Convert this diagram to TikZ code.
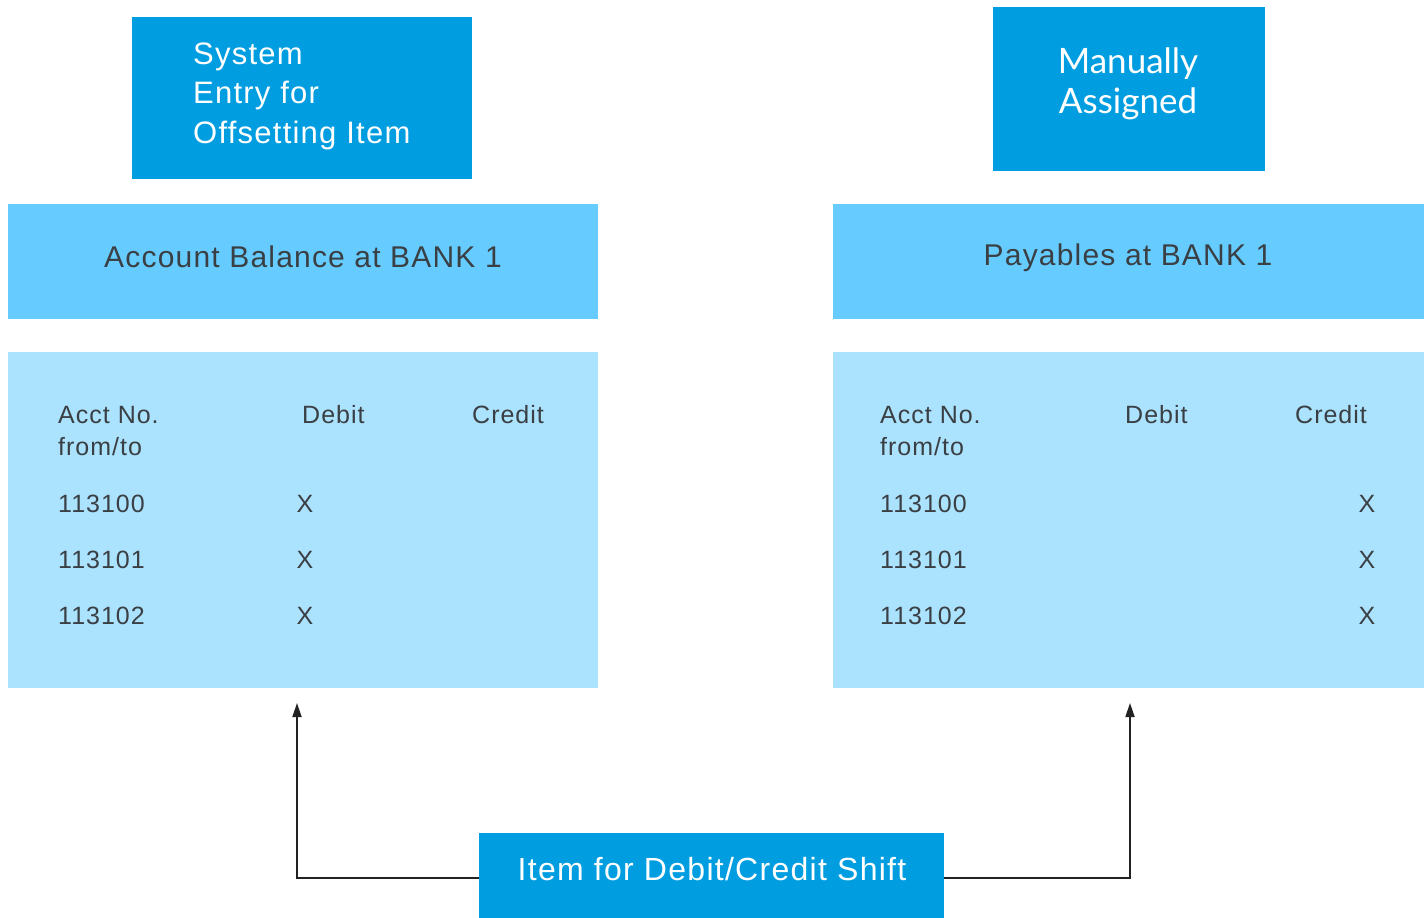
\documentclass[tikz,border=0pt]{standalone}
\usepackage{fontspec}
\setmainfont[LetterSpace=4]{Liberation Sans}
\newfontfamily\latofont{Lato}
\usetikzlibrary{arrows.meta}
\definecolor{sapdark}{HTML}{009DE0}
\definecolor{sapmid}{HTML}{66CCFF}
\definecolor{saplight}{HTML}{ABE2FD}
\definecolor{txtgray}{HTML}{3A3F44}
\definecolor{linegray}{HTML}{222222}

\tikzset{
  panel/.style={anchor=north west, inner sep=0pt, outer sep=0pt, draw=none},
  hdrtext/.style={text=txtgray, font=\fontsize{30}{36}\selectfont, inner sep=0pt},
  celltext/.style={text=txtgray, font=\fontsize{25}{32}\selectfont, inner sep=0pt, anchor=base west},
  whitetext/.style={text=white, inner sep=0pt},
  link/.style={draw=linegray, line width=1.8pt, -{Triangle[length=14pt,width=9pt]}}
}

\begin{document}
\begin{tikzpicture}[x=1pt,y=-1pt]
\useasboundingbox (0,0) rectangle (1424,918);

% top labels
\node[panel, fill=sapdark, minimum width=340pt, minimum height=162pt] (sys) at (132,17) {};
\node[whitetext, anchor=base west, align=left, font=\fontsize{31}{39.5}\selectfont] (systxt) at (193,143)
  {System\\Entry for\\Offsetting Item};
\node[panel, fill=sapdark, minimum width=272pt, minimum height=164pt] (man) at (993,7) {};
\node[whitetext, align=center, font=\latofont\fontsize{35}{40}\selectfont] (mantxt) at (1128,84)
  {Manually\\Assigned};

% account headers
\node[panel, fill=sapmid, minimum width=590pt, minimum height=115pt] (hdrL) at (8,204) {};
\node[hdrtext, anchor=base] (hdrLtxt) at (303,267) {Account Balance at BANK 1};
\node[panel, fill=sapmid, minimum width=591pt, minimum height=115pt] (hdrR) at (833,204) {};
\node[hdrtext, anchor=base] (hdrRtxt) at (1128,265) {Payables at BANK 1};

% account tables
\node[panel, fill=saplight, minimum width=590pt, minimum height=336pt] (tabL) at (8,352) {};
\node[panel, fill=saplight, minimum width=591pt, minimum height=336pt] (tabR) at (833,352) {};

% left table contents
\node[celltext] (lacct) at (58,423) {Acct No.};
\node[celltext] (lfrom) at (58,455) {from/to};
\node[celltext] (ldeb) at (302,423) {Debit};
\node[celltext] (lcred) at (472,423) {Credit};
\node[celltext] (lr1) at (58,512) {113100};
\node[celltext] (lr2) at (58,568) {113101};
\node[celltext] (lr3) at (58,624) {113102};
\node[celltext, anchor=base] (lx1) at (305,512) {X};
\node[celltext, anchor=base] (lx2) at (305,568) {X};
\node[celltext, anchor=base] (lx3) at (305,624) {X};

% right table contents
\node[celltext] (racct) at (880,423) {Acct No.};
\node[celltext] (rfrom) at (880,455) {from/to};
\node[celltext] (rdeb) at (1125,423) {Debit};
\node[celltext] (rcred) at (1295,423) {Credit};
\node[celltext] (rr1) at (880,512) {113100};
\node[celltext] (rr2) at (880,568) {113101};
\node[celltext] (rr3) at (880,624) {113102};
\node[celltext, anchor=base] (rx1) at (1367,512) {X};
\node[celltext, anchor=base] (rx2) at (1367,568) {X};
\node[celltext, anchor=base] (rx3) at (1367,624) {X};

% shift item
\node[panel, fill=sapdark, minimum width=465pt, minimum height=86pt] (shift) at (479,833) {};
\node[whitetext, anchor=base, font=\fontsize{32}{38}\selectfont] (shifttxt) at (712,880) {Item for Debit/Credit Shift};

% connectors
\coordinate (tipL) at (297,703);
\coordinate (tipR) at (1130,703);
\draw[link] (shift.west |- 0,878) -| (tipL);
\draw[link] (shift.east |- 0,878) -| (tipR);
\end{tikzpicture}
\end{document}
